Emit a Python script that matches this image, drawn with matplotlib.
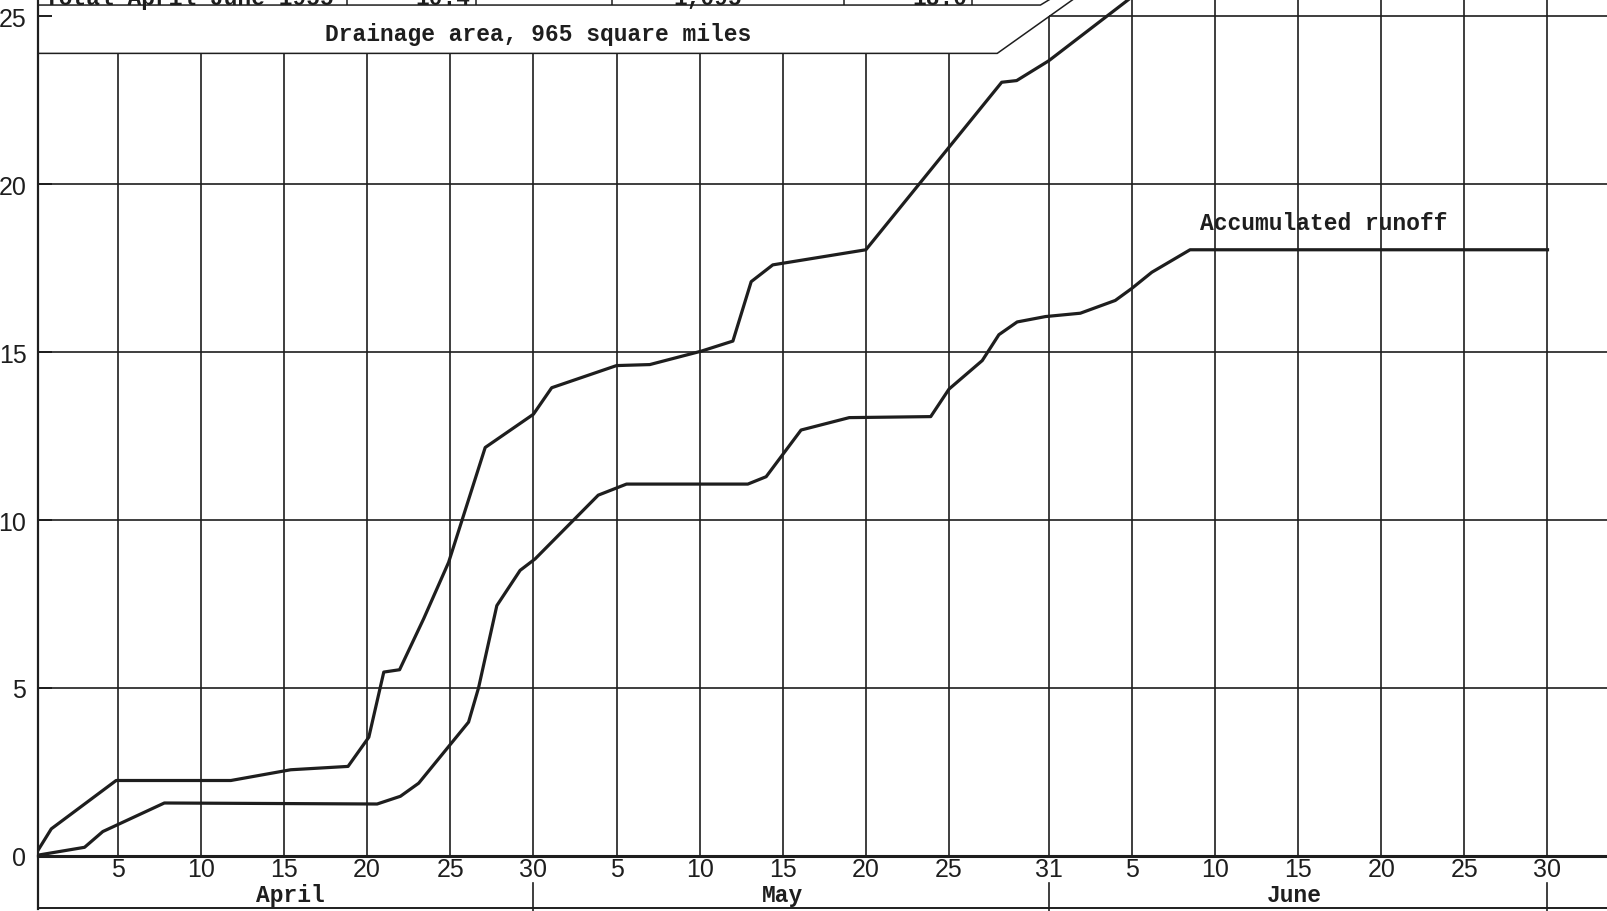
import matplotlib
matplotlib.use('Agg')
from matplotlib import pyplot as plt

# days counted so that the April 5 gridline is 5, May 31 is 61, June 30 is 91
upper_day = [0, 1.0, 4.9, 11.8, 15.4, 18.85, 20.1, 21.0, 21.95, 23.4, 24.9, 27.1,
             30.0, 31.1, 35.0, 37.0, 40.1, 42.0, 43.1, 44.4, 50.0, 58.17, 59.07,
             61.0, 66.0, 66.8]
upper_in = [0, 0.8, 2.24, 2.24, 2.56, 2.66, 3.53, 5.47, 5.54, 7.06, 8.74, 12.16,
            13.15, 13.94, 14.6, 14.63, 15.03, 15.33, 17.1, 17.6, 18.05, 23.04, 23.09,
            23.68, 25.58, 25.85]

runoff_day = [0, 3.0, 4.1, 7.8, 20.6, 22.0, 23.1, 26.1, 26.7, 27.8, 29.2, 30.1,
              33.9, 35.6, 42.9, 44.0, 46.1, 49.0, 53.9, 55.0, 57.0, 58.0, 59.1,
              60.8, 62.9, 65.0, 66.0, 67.2, 69.5, 91.0]
runoff_in = [0, 0.25, 0.72, 1.57, 1.54, 1.77, 2.16, 3.98, 5.0, 7.45, 8.5, 8.84,
             10.74, 11.07, 11.07, 11.29, 12.68, 13.05, 13.08, 13.9, 14.75, 15.52, 15.9,
             16.06, 16.16, 16.54, 16.9, 17.38, 18.05, 18.05]

# x gridlines / tick labels
april_ticks = [5, 10, 15, 20, 25, 30]
may_ticks = [35, 40, 45, 50, 55, 61]
june_ticks = [66, 71, 76, 81, 86, 91]
tick_labels = ['5', '10', '15', '20', '25', '30',
               '5', '10', '15', '20', '25', '31',
               '5', '10', '15', '20', '25', '30']
months = ['April', 'May', 'June']
month_pos = [15.4, 45.0, 75.8]
month_ends = [30, 61, 91]
y_ticks = [0, 5, 10, 15, 20, 25]

# cut-off table row at the top of the page
table_text = ['Total April-June 1955', '10.4', '1,095', '18.0']
table_x = [0.6, 26.2, 40.5, 56.1]
table_ha = ['left', 'right', 'center', 'right']
table_seps = [18.79, 26.55, 34.73, 48.68, 56.38]

ink = '#1e1e1e'
mono = ['Liberation Mono', 'DejaVu Sans Mono']
sans = ['Liberation Sans', 'DejaVu Sans']

fig = plt.figure(figsize=(16.08, 9.12), dpi=100)
ax = fig.add_axes([37.5 / 1608, 1 - 856.7 / 912, 1 - 37.5 / 1608, 856.7 / 912])
x0, x1 = 0.17, 94.64
ax.set_xlim(x0, x1)
ax.set_ylim(0, 25.52)

for s in ['top', 'right']:
    ax.spines[s].set_visible(False)
ax.spines['left'].set_linewidth(1.6)
ax.spines['bottom'].set_linewidth(2.2)
ax.spines['left'].set_color(ink)
ax.spines['bottom'].set_color(ink)

# grid
ax.vlines(april_ticks + may_ticks[:-1], 0, 23.9, color=ink, lw=1.2)
ax.vlines([61], 0, 25, color=ink, lw=1.2)
ax.vlines(june_ticks, 0, 25.52, color=ink, lw=1.2)
ax.hlines([5, 10, 15, 20], x0, x1, color=ink, lw=1.2)
ax.hlines([25], 61, x1, color=ink, lw=1.2)

# drainage area box and table bottom edge
ax.plot([x0, 57.9, 62.5], [23.9, 23.9, 25.52], color=ink, lw=1.1)
ax.plot([x0, 60.5, 61.1], [25.34, 25.34, 25.52], color=ink, lw=1.1)
ax.vlines(table_seps, 25.34, 25.52, color=ink, lw=1.1)
for t, xx, ha in zip(table_text, table_x, table_ha):
    ax.text(xx, 25.385, t, ha=ha, va='baseline', fontsize=16.5, family=mono,
            weight='bold', color=ink, clip_on=False)
ax.text(30.3, 24.48, 'Drainage area, 965 square miles', ha='center', va='center',
        fontsize=16.5, family=mono, weight='bold', color=ink)

# curves
ax.plot(upper_day, upper_in, color=ink, lw=2.3, zorder=3)
ax.plot(runoff_day, runoff_in, color=ink, lw=2.3, zorder=3)
ax.text(77.55, 18.86, 'Accumulated runoff', ha='center', va='center',
        fontsize=16.5, family=mono, weight='bold', color=ink)

# axes ticks
ax.set_yticks(y_ticks)
ax.set_yticklabels([str(v) for v in y_ticks], family=sans, fontsize=18, color=ink)
ax.tick_params(axis='y', direction='in', length=10, width=1.4, pad=8, color=ink)
ax.set_xticks(april_ticks + may_ticks + june_ticks)
ax.set_xticklabels(tick_labels, family=sans, fontsize=18, color=ink)
ax.tick_params(axis='x', length=0, pad=1)

# month band below the axis
ax.plot([x0, x0], [0, -1.58], color=ink, lw=1.6, clip_on=False)
ax.plot([x0, x1], [-1.57, -1.57], color=ink, lw=1.4, clip_on=False)
for m in month_ends:
    ax.plot([m, m], [-0.82, -1.7], color=ink, lw=1.2, clip_on=False)
for name, xm in zip(months, month_pos):
    ax.text(xm, -1.17, name, ha='center', va='center', fontsize=16.5,
            family=mono, weight='bold', color=ink, clip_on=False)

plt.savefig('out.png', dpi=100, facecolor='white')
